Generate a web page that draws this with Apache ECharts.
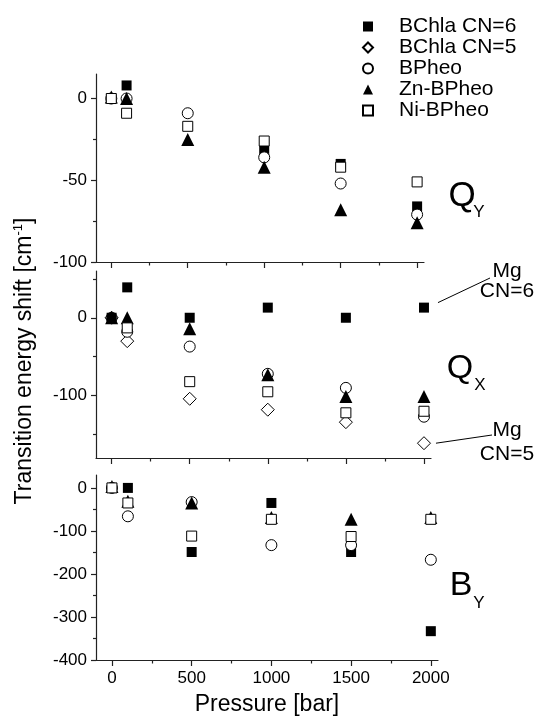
<!DOCTYPE html>
<html>
<head>
<meta charset="utf-8" />
<title>pressure shift</title>
<style>
  html, body { margin: 0; padding: 0; background: #fff; }
  #chart { width: 536px; height: 717px; }
</style>
</head>
<body>
<div id="chart"></div>
<script src="https://cdn.jsdelivr.net/npm/echarts@6/dist/echarts.min.js"></script>
<script>
var pressure = [0, 100, 500, 1000, 1500, 2000];
var names = ['BChla CN=6', 'BChla CN=5', 'BPheo', 'Zn-BPheo', 'Ni-BPheo'];

// Q_Y band
var qyBChla6 = [0, 8, null, -32, -40, -66];
var qyBChla5 = [null, null, null, null, null, null];
var qyBPheo  = [0, 0, -9, -36, -52, -71];
var qyZn     = [1, 0, -25, -42, -68, -76];
var qyNi     = [0, -9, -17, -26, -42, -51];

// Q_X band
var qxBChla6 = [0, 39, 0, 13, 0, 13];
var qxBChla5 = [0, -30, -104, -118, -134, -161];
var qxBPheo  = [0, -18, -37, -72, -90, -127];
var qxZn     = [0, 0, -14, -73, -101, -101];
var qxNi     = [null, -13, -82, -95, -122, -120];

// B_Y band
var byBChla6 = [0, 0, -149, -35, -149, -333];
var byBChla5 = [null, null, null, null, null, null];
var byBPheo  = [0, -66, -33, -133, -133, -167];
var byZn     = [3, -31, -35, -69, -73, -69];
var byNi     = [0, -35, -112, -73, -113, -73];

var xMajor = [0, 500, 1000, 1500, 2000];
var xMinor = [250, 750, 1250, 1750];
var qyMajor = [0, -50, -100], qyMinor = [-25, -75];
var qxMajor = [0, -100], qxMinor = [50, -50, -150];
var byMajor = [0, -100, -200, -300, -400], byMinor = [-50, -150, -250, -350];

var font = 'Liberation Sans, Arial, sans-serif';
var ink = '#000';

var styles = [
  { symbol: 'rect', symbolSize: 10, itemStyle: { color: ink, opacity: 1 } },
  { symbol: 'diamond', symbolSize: 13, itemStyle: { color: '#fff', borderColor: ink, borderWidth: 1, opacity: 1 } },
  { symbol: 'circle', symbolSize: 11, itemStyle: { color: '#fff', borderColor: ink, borderWidth: 1, opacity: 1 } },
  { symbol: 'triangle', symbolSize: 13, itemStyle: { color: ink, opacity: 1 } },
  { symbol: 'rect', symbolSize: 10, itemStyle: { color: '#fff', borderColor: ink, borderWidth: 1, opacity: 1 } }
];

function pairs(vals) {
  var out = [];
  for (var i = 0; i < pressure.length; i++) {
    if (vals[i] !== null && vals[i] !== undefined) out.push([pressure[i], vals[i]]);
  }
  return out;
}

function plain(v) { return String(v); }

function xAxisOf(grid, showLabels, ticks, len, isMinor) {
  return {
    type: 'value', gridIndex: grid, min: -100, max: 2045, position: 'bottom',
    axisLine: { show: !isMinor, onZero: false, lineStyle: { color: '#222', width: 1.2 } },
    axisTick: { show: true, inside: false, length: len, customValues: ticks, lineStyle: { color: '#222', width: 1.2 } },
    axisLabel: { show: showLabels, customValues: ticks, formatter: plain, margin: 10, color: '#000', fontSize: 17, fontFamily: font },
    splitLine: { show: false }
  };
}
function yAxisOf(grid, min, max, ticks, len, isMinor) {
  return {
    type: 'value', gridIndex: grid, min: min, max: max, position: 'left',
    axisLine: { show: !isMinor, onZero: false, lineStyle: { color: '#222', width: 1.2 } },
    axisTick: { show: true, inside: false, length: len, customValues: ticks, lineStyle: { color: '#222', width: 1.2 } },
    axisLabel: { show: !isMinor, customValues: ticks, formatter: plain, margin: 9, color: '#000', fontSize: 17, fontFamily: font },
    splitLine: { show: false }
  };
}

var bands = [
  [qyBChla6, qyBChla5, qyBPheo, qyZn, qyNi],
  [qxBChla6, qxBChla5, qxBPheo, qxZn, qxNi],
  [byBChla6, byBChla5, byBPheo, byZn, byNi]
];
var series = [];
for (var b = 0; b < bands.length; b++) {
  for (var s = 0; s < names.length; s++) {
    // in the Q_X band the filled squares sit on top
    var zz = (b === 1 && s === 0) ? 9 : 2 + s;
    series.push({
      name: names[s], type: 'scatter', xAxisIndex: b, yAxisIndex: b,
      symbol: styles[s].symbol, symbolSize: styles[s].symbolSize,
      itemStyle: styles[s].itemStyle, z: zz,
      emphasis: { disabled: true },
      data: pairs(bands[b][s])
    });
  }
}

var xAxes = [
  xAxisOf(0, false, xMajor, 6, false),
  xAxisOf(1, false, xMajor, 6, false),
  xAxisOf(2, true, xMajor, 6, false),
  xAxisOf(0, false, xMinor, 3.5, true),
  xAxisOf(1, false, xMinor, 3.5, true),
  xAxisOf(2, false, xMinor, 3.5, true)
];
xAxes[2].name = 'Pressure [bar]';
xAxes[2].nameLocation = 'middle';
xAxes[2].nameGap = 33;
xAxes[2].nameTextStyle = { fontSize: 23, color: '#000', fontFamily: font };

var yAxes = [
  yAxisOf(0, -100, 15, qyMajor, 5, false),
  yAxisOf(1, -180, 60, qxMajor, 5, false),
  yAxisOf(2, -400, 30, byMajor, 5, false),
  yAxisOf(0, -100, 15, qyMinor, 3, true),
  yAxisOf(1, -180, 60, qxMinor, 3, true),
  yAxisOf(2, -400, 30, byMinor, 3, true)
];

var chart = echarts.init(document.getElementById('chart'));
var option = {
  animation: false,
  backgroundColor: '#fff',
  textStyle: { fontFamily: font },
  grid: [
    { left: 96, top: 74, width: 328, height: 188 },
    { left: 96, top: 271, width: 335, height: 187 },
    { left: 96, top: 475, width: 342, height: 187 }
  ],
  legend: {
    orient: 'vertical', left: 362, top: 16, padding: 0, itemGap: 0,
    itemWidth: 10, itemHeight: 10,
    data: names,
    textStyle: { fontSize: 21, lineHeight: 20, color: '#000', fontFamily: font, padding: [0, 0, 0, 21] }
  },
  xAxis: xAxes,
  yAxis: yAxes,
  series: series
};
chart.setOption(option);

// annotations, leader lines start next to the Mg points at 2000 bar
var p6 = chart.convertToPixel({ xAxisIndex: 1, yAxisIndex: 1 }, [2000, qxBChla6[5]]);
var p5 = chart.convertToPixel({ xAxisIndex: 1, yAxisIndex: 1 }, [2000, qxBChla5[5]]);

function label(x, y, txt, size) {
  return { type: 'text', x: x, y: y, z: 10,
    style: { text: txt, fontSize: size, fontFamily: font, fill: '#000', align: 'center', verticalAlign: 'middle' } };
}

chart.setOption({
  graphic: [
    { type: 'text', x: 25, y: 361, rotation: Math.PI / 2, z: 10,
      style: {
        text: '{a|Transition energy shift [cm}{s|-1}{a|]}',
        align: 'center', verticalAlign: 'middle', fill: '#000', fontFamily: font,
        rich: {
          a: { fontSize: 23, lineHeight: 26, fontFamily: font, fill: '#000' },
          s: { fontSize: 13, lineHeight: 13, verticalAlign: 'top', fontFamily: font, fill: '#000' }
        }
      } },
    label(462, 196, 'Q', 35), label(479, 212, 'Y', 17),
    label(460, 369, 'Q', 34), label(480, 385, 'X', 17),
    label(461, 586, 'B', 34), label(479, 603, 'Y', 17),
    label(507, 271, 'Mg', 21), label(507, 291, 'CN=6', 21),
    label(507, 430, 'Mg', 21), label(507, 454, 'CN=5', 21),
    { type: 'line', z: 10, shape: { x1: p6[0] + 14, y1: p6[1] - 5, x2: 490, y2: 278 },
      style: { stroke: ink, lineWidth: 1 } },
    { type: 'line', z: 10, shape: { x1: p5[0] + 12, y1: p5[1], x2: 492, y2: 435 },
      style: { stroke: ink, lineWidth: 1 } }
  ]
});
</script>
</body>
</html>
